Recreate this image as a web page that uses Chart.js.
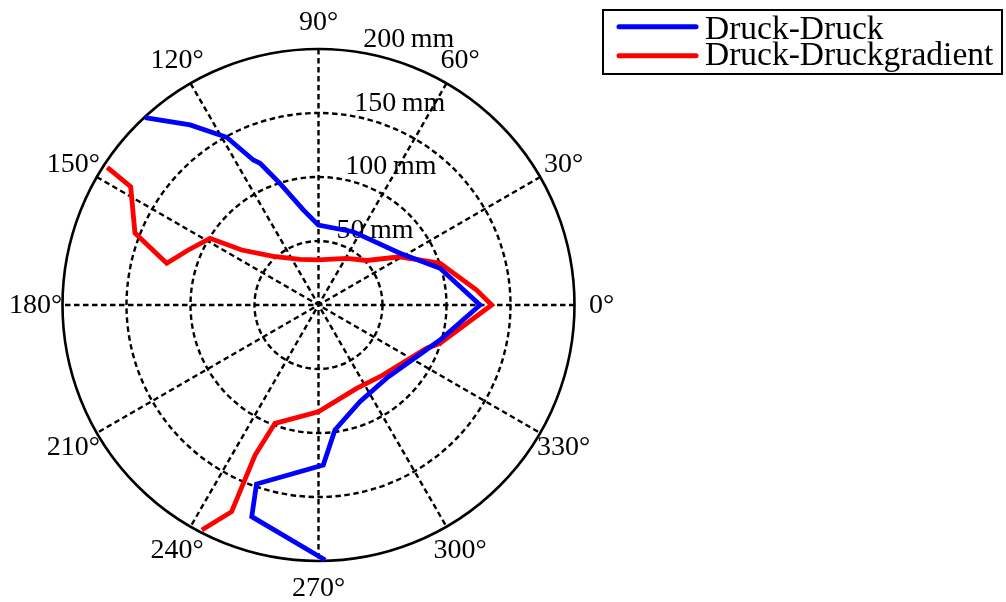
<!DOCTYPE html>
<html>
<head>
<meta charset="utf-8">
<script src="https://cdn.jsdelivr.net/npm/chart.js@4/dist/chart.umd.min.js"></script>
<style>
  html, body { margin: 0; padding: 0; background: #ffffff; overflow: hidden; }
</style>
</head>
<body>
<canvas id="polar" width="1006" height="602"></canvas>
<script>
// Series names and colours
const seriesNames = ['Druck-Druck', 'Druck-Druckgradient'];
const seriesColors = ['#0000ff', '#ff0000'];

// Druck-Druck: angle (degrees) and radius (mm)
const druckAngles = [132.8, 125.5, 118.7, 114.2, 112.4, 107.6, 99.1, 90.1, 64.8, 32.4, 16.8, 0, 343.9, 314, 293.2, 277.5, 271.7, 250.9, 252.5, 271.5];
const druckRadii  = [199.5, 172.8, 149.4, 124.2, 119.8, 99.7, 75.2, 62.5, 63.3, 75.4, 99.2, 126.2, 98.8, 78.2, 82.2, 98.5, 125.1, 148, 173.4, 199.3];

// Druck-Druckgradient: angle (degrees) and radius (mm)
const gradAngles = [146.9, 147.8, 158.6, 164.6, 157.1, 148.4, 144.4, 132.9, 112, 90.3, 58.9, 42.7, 30.6, 18.9, 5.4, 0, 342.5, 338.2, 310.6, 294.6, 269.9, 249.8, 247.1, 247.2, 242.6];
const gradRadii  = [197, 173.4, 154, 123, 110.4, 99.5, 73.8, 51.9, 38.5, 35.2, 42.6, 51.3, 74, 100.4, 124.1, 135.3, 99.5, 91, 73.8, 71.6, 83.4, 98.5, 127.3, 175.2, 198];

// Axis ticks
const angleTicks = [0, 30, 60, 90, 120, 150, 180, 210, 240, 270, 300, 330];
const radiusTicks = [50, 100, 150, 200];
const radiusMax = 200;

const FONT = '"Liberation Serif", "DejaVu Serif", serif';

function toXY(angles, radii) {
  return angles.map((a, i) => {
    const t = a * Math.PI / 180;
    return { x: radii[i] * Math.cos(t), y: radii[i] * Math.sin(t) };
  });
}

// Polar grid, ring labels and angle labels drawn beneath the data
const polarGrid = {
  id: 'polarGrid',
  beforeDatasetsDraw(chart) {
    const ctx = chart.ctx;
    const xs = chart.scales.x, ys = chart.scales.y;
    const cx = xs.getPixelForValue(0), cy = ys.getPixelForValue(0);
    const rpx = r => xs.getPixelForValue(r) - cx;
    const R = rpx(radiusMax);

    ctx.save();
    ctx.strokeStyle = '#000';
    ctx.lineWidth = 2.4;
    ctx.setLineDash([5.5, 3.5]);
    // spokes
    angleTicks.filter(a => a < 180).forEach(a => {
      const t = a * Math.PI / 180;
      ctx.beginPath();
      ctx.moveTo(cx + R * Math.cos(t), cy - R * Math.sin(t));
      ctx.lineTo(cx - R * Math.cos(t), cy + R * Math.sin(t));
      ctx.stroke();
    });
    // inner rings
    radiusTicks.filter(r => r < radiusMax).forEach(r => {
      ctx.beginPath();
      ctx.arc(cx, cy, rpx(r), 0, Math.PI * 2);
      ctx.stroke();
    });
    // outer ring
    ctx.setLineDash([]);
    ctx.lineWidth = 2.6;
    ctx.beginPath();
    ctx.arc(cx, cy, R, 0, Math.PI * 2);
    ctx.stroke();

    // ring labels
    ctx.fillStyle = '#000';
    ctx.font = '28px ' + FONT;
    ctx.textAlign = 'left';
    ctx.textBaseline = 'alphabetic';
    const lt = 82 * Math.PI / 180;
    radiusTicks.forEach(r => {
      const p = rpx(r);
      ctx.fillText(r + '\u2009mm', cx + p * Math.cos(lt) + 9, cy - p * Math.sin(lt) - 4);
    });

    // angle labels
    ctx.textAlign = 'center';
    ctx.textBaseline = 'middle';
    const LR = R + 27;
    angleTicks.forEach(a => {
      const t = a * Math.PI / 180;
      ctx.fillText(a + '°', cx + LR * Math.cos(t), cy - LR * Math.sin(t) + 1);
    });
    ctx.restore();
  }
};

// Boxed legend in the upper right
const boxLegend = {
  id: 'boxLegend',
  afterDraw(chart) {
    const ctx = chart.ctx;
    ctx.save();
    ctx.fillStyle = '#fff';
    ctx.fillRect(602, 9, 401, 65);
    ctx.strokeStyle = '#000';
    ctx.lineWidth = 2;
    ctx.strokeRect(603, 10, 399, 64);
    ctx.font = '33.5px ' + FONT;
    ctx.textAlign = 'left';
    ctx.textBaseline = 'alphabetic';
    chart.data.datasets.forEach((ds, i) => {
      const y = 26.7 + i * 29;
      ctx.strokeStyle = ds.borderColor;
      ctx.lineWidth = 5;
      ctx.lineCap = 'round';
      ctx.beginPath();
      ctx.moveTo(619, y);
      ctx.lineTo(696, y);
      ctx.stroke();
      ctx.fillStyle = '#000';
      ctx.fillText(ds.label, 705, 38.5 + i * 26.5);
    });
    ctx.restore();
  }
};

new Chart(document.getElementById('polar'), {
  type: 'scatter',
  data: {
    datasets: [
      { label: seriesNames[0], data: toXY(druckAngles, druckRadii), borderColor: seriesColors[0] },
      { label: seriesNames[1], data: toXY(gradAngles, gradRadii), borderColor: seriesColors[1] }
    ].map(d => Object.assign(d, {
      showLine: true, pointRadius: 0, borderWidth: 4.8, fill: false, tension: 0, clip: false
    }))
  },
  options: {
    responsive: false,
    animation: false,
    devicePixelRatio: 1,
    layout: { padding: { left: 62.5, right: 431.5, top: 49, bottom: 41 } },
    scales: {
      x: { type: 'linear', min: -radiusMax, max: radiusMax, display: false },
      y: { type: 'linear', min: -radiusMax, max: radiusMax, display: false }
    },
    plugins: { legend: { display: false }, tooltip: { enabled: false } }
  },
  plugins: [polarGrid, boxLegend]
});
</script>
</body>
</html>
